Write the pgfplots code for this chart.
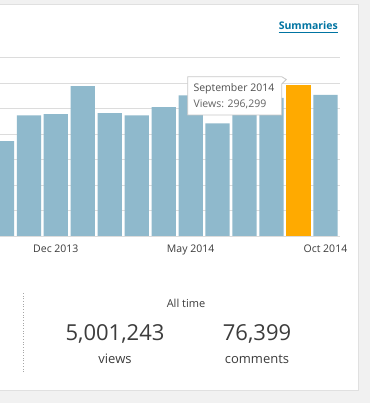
\documentclass[border=0pt]{standalone}
\usepackage{fontspec}
\setmainfont{Open Sans}
\usepackage{pgfplots}
\pgfplotsset{compat=1.18}
\definecolor{barblue}{HTML}{8FB9CC}
\definecolor{barorange}{HTML}{FFAA00}
\definecolor{gridgray}{HTML}{DCDCDC}
\definecolor{bggray}{HTML}{F1F1F1}
\definecolor{cardborder}{HTML}{E0E0E0}
\definecolor{txt}{HTML}{3C3C3C}
\definecolor{linkblue}{HTML}{0074A2}
\definecolor{tipborder}{HTML}{C8C8C8}
\begin{document}
\begin{tikzpicture}[x=1pt,y=1pt]
\useasboundingbox (0,0) rectangle (370,403);
\fill[bggray] (0,0) rectangle (370,403);
\filldraw[fill=white, draw=cardborder, line width=1pt] (-2,12) rectangle (358,398);
\begin{axis}[at={(0pt,167pt)}, anchor=south west, scale only axis,
  width=340pt, height=183.4pt,
  xmin=0.928, xmax=13.54, ymin=0, ymax=360000,
  ytick={0,50000,...,350000}, yticklabel=\empty, scaled y ticks=false,
  ymajorgrids, grid style={gridgray, line width=0.9pt},
  xtick={3,8,13}, xticklabels={Dec 2013, May 2014, Oct 2014},
  axis line style={draw=none}, major tick length=0pt,
  xticklabel style={font=\fontsize{10.5}{12}\selectfont, text=txt, yshift=-5pt},
  ybar, bar width=0.9, bar shift=0pt, clip=true]
\addplot[fill=barblue, draw=none] coordinates {
 (1,186000) (2,237000) (3,239000) (4,294000) (5,241000) (6,237000)
 (7,253000) (8,276000) (9,221000) (10,260000) (11,271000) (13,277000)};
\addplot[fill=barorange, draw=none] coordinates {(12,296299)};
\end{axis}
% tooltip
\filldraw[fill=white, draw=tipborder, line width=0.8pt]
  (187.7,288) -- (187.7,326.3) -- (281.7,326.3) -- (286.3,323.5) -- (281.7,319) -- (281.7,288) -- cycle;
\node[anchor=base west, inner sep=0pt, text=txt!90, font=\fontsize{10.5}{12}\selectfont] at (193.3,311) {September 2014};
\node[anchor=base west, inner sep=0pt, text=txt!80, font=\fontsize{10.5}{12}\selectfont] at (193.3,295.3) {Views: 296,299};
% summaries link
\node[anchor=base east, inner sep=0pt, text=linkblue, font=\fontsize{10.5}{12}\selectfont\bfseries] (s) at (338,373.5) {Summaries};
\draw[linkblue, line width=0.7pt] (s.south west |- 0,371) -- (s.south east |- 0,371);
% bottom summary
\draw[gray!70, dotted, line width=0.7pt] (23,31) -- (23,111);
\node[anchor=base, inner sep=0pt, text=txt, font=\fontsize{11}{13}\selectfont] at (186,95.7) {All time};
\node[anchor=base, inner sep=0pt, text=txt, font=\fontsize{22}{26}\selectfont] at (115,62.3) {5,001,243};
\node[anchor=base, inner sep=0pt, text=txt, font=\fontsize{22}{26}\selectfont] at (257,62.3) {76,399};
\node[anchor=base, inner sep=0pt, text=txt, font=\fontsize{13}{15}\selectfont] at (115,39) {views};
\node[anchor=base, inner sep=0pt, text=txt, font=\fontsize{13}{15}\selectfont] at (257,39) {comments};
\end{tikzpicture}
\end{document}
